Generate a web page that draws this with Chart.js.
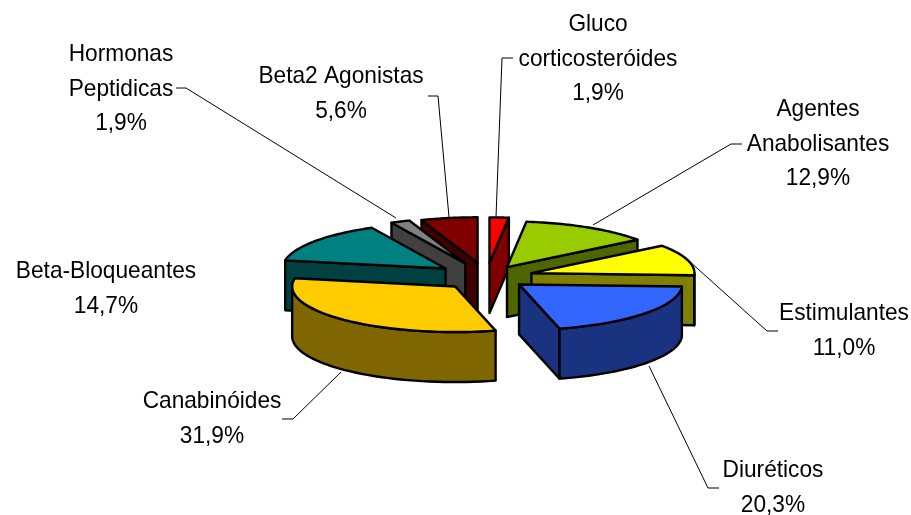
<!DOCTYPE html>
<html>
<head>
<meta charset="utf-8">
<style>
  html, body { margin: 0; padding: 0; background: #fff; }
  #wrap { width: 911px; height: 515px; }
</style>
<script src="https://cdn.jsdelivr.net/npm/chart.js@4/dist/chart.umd.min.js"></script>
</head>
<body>
<div id="wrap"><canvas id="chart"></canvas></div>
<script>
// Data
const categories = ['Gluco corticosteróides', 'Agentes Anabolisantes', 'Estimulantes', 'Diuréticos',
  'Canabinóides', 'Beta-Bloqueantes', 'Hormonas Peptidicas', 'Beta2 Agonistas'];
const percentages = [1.9, 12.9, 11.0, 20.3, 31.9, 14.7, 1.9, 5.6];
const topColors = ['#ff0000', '#99cc00', '#ffff00', '#3366ff', '#ffcc00', '#008080', '#808080', '#800000'];
const sideColors = ['#800000', '#4d6600', '#808000', '#1a3380', '#806600', '#004040', '#404040', '#400000'];

// How far each slice is pulled out of the pie
const explode = [50, 41, 47, 42, 46, 51, 53, 51];
// Back to front, so nearer slices cover the ones behind
const drawOrder = [7, 0, 6, 1, 5, 2, 4, 3];

// Label placement: lines of text, then centre x and first baseline y
const labelLines = [
  ['Gluco', 'corticosteróides'], ['Agentes', 'Anabolisantes'], ['Estimulantes'], ['Diuréticos'],
  ['Canabinóides'], ['Beta-Bloqueantes'], ['Hormonas', 'Peptidicas'], ['Beta2 Agonistas']
];
const labelX = [598, 818, 844, 773, 212, 106, 121, 341];
const labelY = [31, 116, 320, 477, 408, 278, 61, 83];
const leaderLines = [
  [[513, 58], [502, 58], [496, 217]],
  [[742, 144], [731, 144], [593, 225]],
  [[778, 331], [767, 331], [688, 260]],
  [[719, 488], [708, 488], [649, 366]],
  [[282, 419], [293, 419], [341, 372]],
  [],
  [[176, 88], [186, 88], [396, 218]],
  [[428, 96], [438, 96], [449, 217]]
];

const pieCenterY = 277;
const squash = 0.28;
const depth = 50;
const TEXT_FONT = '24px "Liberation Sans"';
const TEXT_NARROW = 0.945;
const LINE_STEP = 34.7;

// Draws the slices as extruded wedges from the arc elements of the pie
const pie3d = {
  id: 'pie3d',
  beforeDatasetDraw(chart) {
    const ctx = chart.ctx;
    const arcs = chart.getDatasetMeta(0).data;

    ctx.save();
    ctx.lineJoin = 'round';
    ctx.strokeStyle = '#000';
    ctx.lineWidth = 2.4;
    drawOrder.forEach(i => drawSlice(ctx, arcs[i], i));
    ctx.restore();
    return false;
  },
  afterDraw(chart) {
    const ctx = chart.ctx;
    ctx.save();
    ctx.strokeStyle = '#000';
    ctx.lineWidth = 1;
    leaderLines.forEach(line => {
      if (!line.length) return;
      ctx.beginPath();
      line.forEach((p, n) => n ? ctx.lineTo(p[0], p[1]) : ctx.moveTo(p[0], p[1]));
      ctx.stroke();
    });

    ctx.fillStyle = '#000';
    ctx.font = TEXT_FONT;
    ctx.textAlign = 'center';
    ctx.textBaseline = 'alphabetic';
    categories.forEach((c, i) => {
      const lines = labelLines[i].concat(percentages[i].toFixed(1).replace('.', ',') + '%');
      lines.forEach((text, n) => {
        ctx.save();
        ctx.translate(labelX[i], labelY[i] + n * LINE_STEP);
        ctx.scale(TEXT_NARROW, 1);
        ctx.fillText(text, 0, 0);
        ctx.restore();
      });
    });
    ctx.restore();
  }
};

function drawSlice(ctx, arc, i) {
  const mid = (arc.startAngle + arc.endAngle) / 2;
  const ox = Math.cos(mid) * explode[i];
  const oy = Math.sin(mid) * explode[i];
  const R = arc.outerRadius;
  const apex = [arc.x + ox, pieCenterY + oy * squash];
  const rim = t => [apex[0] + Math.cos(t) * R, apex[1] + Math.sin(t) * R * squash];

  const face = pts => {
    ctx.beginPath();
    pts.forEach((p, n) => n ? ctx.lineTo(p[0], p[1]) : ctx.moveTo(p[0], p[1]));
    ctx.closePath();
    ctx.fillStyle = sideColors[i];
    ctx.fill();
    ctx.stroke();
  };
  const down = p => [p[0], p[1] + depth];
  const radial = t => {
    const e = rim(t);
    face([apex, e, down(e), down(apex)]);
  };

  // cut faces that look towards the viewer
  if (Math.cos(arc.startAngle) < 0) radial(arc.startAngle);
  if (Math.cos(arc.endAngle) > 0) radial(arc.endAngle);

  // the part of the round wall on the near side
  const a = Math.max(arc.startAngle, 0);
  const b = Math.min(arc.endAngle, Math.PI);
  if (b > a) {
    const top = [];
    for (let n = 0; n <= 40; n++) top.push(rim(a + (b - a) * n / 40));
    face(top.concat(top.slice().reverse().map(down)));
  }

  // top face, filled by the arc element itself under the squash transform
  ctx.save();
  ctx.translate(ox, pieCenterY + oy * squash);
  ctx.scale(1, squash);
  ctx.translate(0, -arc.y);
  arc.draw(ctx);
  ctx.restore();

  // outline in screen space so the pen stays even
  ctx.beginPath();
  ctx.moveTo(apex[0], apex[1]);
  for (let n = 0; n <= 40; n++) {
    const p = rim(arc.startAngle + (arc.endAngle - arc.startAngle) * n / 40);
    ctx.lineTo(p[0], p[1]);
  }
  ctx.closePath();
  ctx.stroke();
}

new Chart(document.getElementById('chart'), {
  type: 'pie',
  data: {
    labels: categories,
    datasets: [{
      data: percentages,
      backgroundColor: topColors,
      borderWidth: 0
    }]
  },
  options: {
    responsive: true,
    maintainAspectRatio: false,
    animation: false,
    radius: 163,
    layout: { padding: { left: 62, top: 39 } },
    plugins: {
      legend: { display: false },
      tooltip: { enabled: false }
    }
  },
  plugins: [pie3d]
});
</script>
</body>
</html>
